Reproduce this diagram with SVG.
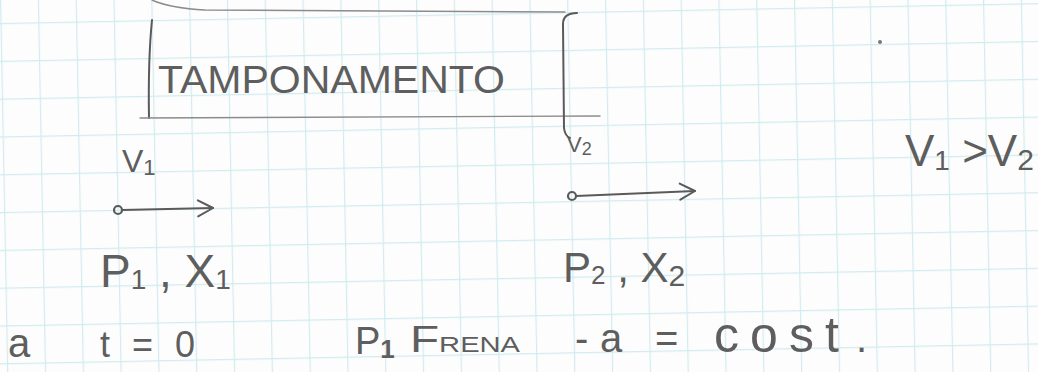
<svg xmlns="http://www.w3.org/2000/svg" width="1038" height="372" viewBox="0 0 1038 372">
<defs>
<style>
.pen{fill:none;stroke:#5a5a5a;stroke-width:2;stroke-linecap:round;stroke-linejoin:round}
.pen-light{fill:none;stroke:#8c8c8c;stroke-width:1.4;stroke-linecap:round;stroke-linejoin:round}
.hw{font-family:"Liberation Sans",Arial,sans-serif;fill:#5e5e5e}
</style>
<pattern id="grid" width="37.8" height="37.8" patternUnits="userSpaceOnUse" patternTransform="rotate(-1.1) translate(0,23)">
<path d="M0 0.6H37.8M0.6 0V37.8" stroke="#d2ebf0" stroke-width="1.2" fill="none"/>
</pattern>
<marker id="chev" viewBox="0 0 20 20" refX="18" refY="10" markerWidth="20" markerHeight="20" markerUnits="userSpaceOnUse" orient="auto">
<path d="M3,2 L18,10 L3,18" fill="none" stroke="#5a5a5a" stroke-width="2" stroke-linecap="round" stroke-linejoin="round"/>
</marker>
</defs>
<rect width="1038" height="372" fill="#fdfdfd"/>
<rect width="1038" height="372" fill="url(#grid)"/>

<g id="tamponamento">
<path class="pen-light" d="M152,0 Q170,8 205,10 L565,12"/>
<path class="pen" d="M152,20 Q148,60 149,118"/>
<path class="pen-light" d="M140,118 L600,116"/>
<path class="pen" d="M577,13 Q563,13 563,24 L564,128 Q565,136 570,138"/>
<text class="hw" x="158" y="93" font-size="38" textLength="347" lengthAdjust="spacingAndGlyphs">TAMPONAMENTO</text>
</g>

<g id="label-v2">
<text class="hw" x="567" y="152" font-size="22">V<tspan font-size="18" dy="3">2</tspan></text>
</g>

<g id="relation">
<text class="hw" x="905" y="166" font-size="44">V<tspan font-size="28" dy="4">1</tspan><tspan dy="-4"> &gt;V</tspan><tspan font-size="30" dy="4">2</tspan></text>
</g>

<g id="body-1">
<text class="hw" x="122" y="172" font-size="32">V<tspan font-size="22" dy="3">1</tspan></text>
<text class="hw" x="100" y="287" font-size="46">P<tspan font-size="28" dy="2">1</tspan><tspan dy="-2"> , X</tspan><tspan font-size="28" dy="2">1</tspan></text>
</g>

<g id="body-2">
<text class="hw" x="563" y="282" font-size="42">P<tspan font-size="26" dy="2">2</tspan><tspan dy="-2"> , X</tspan><tspan font-size="30" dy="4">2</tspan></text>
</g>

<g id="connectors">
<circle cx="118" cy="210" r="4" fill="none" stroke="#5a5a5a" stroke-width="2.2"/>
<path class="pen" d="M122,210 L213,208" marker-end="url(#chev)"/>
<circle cx="572" cy="196" r="4" fill="none" stroke="#5a5a5a" stroke-width="2.2"/>
<path class="pen" d="M576,196 L695,191" marker-end="url(#chev)"/>
</g>

<g id="conditions">
<text class="hw" x="8" y="357" font-size="40">a</text>
<text class="hw" x="100" y="357" font-size="36" textLength="95" lengthAdjust="spacing">t = 0</text>
<text class="hw" x="355" y="354" font-size="38">P<tspan font-size="26" dy="4" font-weight="bold">1</tspan></text>
<text class="hw" x="410" y="352" font-size="36" textLength="110" lengthAdjust="spacingAndGlyphs">F<tspan font-size="22">RENA</tspan></text>
<text class="hw" y="352" font-size="40"><tspan x="575">-</tspan><tspan x="600">a</tspan><tspan x="655">=</tspan><tspan x="714" font-size="50" textLength="125" lengthAdjust="spacing">cost</tspan><tspan x="856">.</tspan></text>
</g>

<circle cx="880" cy="42" r="2" fill="#777"/>
</svg>
